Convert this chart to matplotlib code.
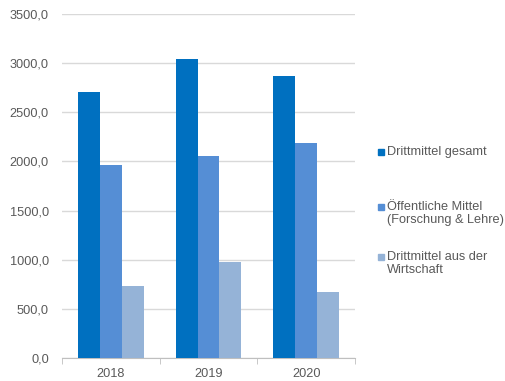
import numpy as np
import matplotlib
matplotlib.use("Agg")
import matplotlib.pyplot as plt
from matplotlib.ticker import FuncFormatter
from matplotlib.patches import Rectangle

jahre = ["2018", "2019", "2020"]
gesamt = [2706, 3042, 2873]
oeffentlich = [1960, 2059, 2188]
wirtschaft = [736, 977, 668]
serien = ["Drittmittel gesamt", "Öffentliche Mittel\n(Forschung & Lehre)", "Drittmittel aus der\nWirtschaft"]
farben = ["#0070C0", "#558ED5", "#95B3D7"]

plt.rcParams['font.family'] = ['Liberation Sans', 'DejaVu Sans']
fig = plt.figure(figsize=(5.06, 3.81), dpi=100)
ax = fig.add_axes([62/506, 1-358/381, 293/506, 344/381])

x = np.arange(len(jahre))
w = 0.224
for i, (werte, name, c) in enumerate(zip([gesamt, oeffentlich, wirtschaft], serien, farben)):
    ax.bar(x + (i-1)*w, werte, w, color=c, label=name, zorder=3)

ax.set_ylim(0, 3500)
ax.set_xlim(-0.5, 2.5)
ax.set_yticks(np.arange(0, 3501, 500))
ax.yaxis.set_major_formatter(FuncFormatter(lambda v, p: f"{v:.1f}".replace(".", ",")))
ax.grid(axis='y', color='#D9D9D9', lw=1, zorder=0)
ax.set_xticks(x)
ax.set_xticklabels(jahre)
ax.set_xticks([-0.5, 0.5, 1.5, 2.5], minor=True)
for s in ['top', 'right', 'left']:
    ax.spines[s].set_visible(False)
ax.spines['bottom'].set_color('#BFBFBF')
ax.tick_params(axis='y', length=0, colors='#595959', labelsize=9.2, pad=9.5)
ax.tick_params(axis='x', which='major', length=0, colors='#595959', labelsize=9.2, pad=7)
ax.tick_params(axis='x', which='minor', length=4, color='#BFBFBF')

# Legende von Hand: Marker an der ersten Zeile wie in Excel
leg_y = [152, 207, 257]
W, H = 506, 381
for name, c, yy in zip(serien, farben, leg_y):
    fig.patches.append(Rectangle((378/W, 1-(yy+3)/H), 6/W, 6/H, color=c,
                                 transform=fig.transFigure, figure=fig))
    fig.text(387/W, 1-(yy-6.5)/H, name, ha='left', va='top', fontsize=9.2,
             color='#595959', linespacing=1.2)

fig.savefig("out.png", dpi=100)
